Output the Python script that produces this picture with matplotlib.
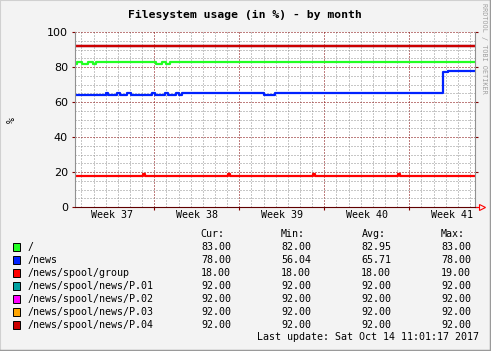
import matplotlib
matplotlib.use('Agg')
import matplotlib.pyplot as plt
from matplotlib.patches import Rectangle
from matplotlib.lines import Line2D

W, H = 491, 351
MONO = 'DejaVu Sans Mono'

# x axis: days since Mon 11 Sep 2017 00:00 (start of week 37)
t_start, t_end = 0.47, 33.41
week_starts = [7, 14, 21, 28]
week_centers = [3.5, 10.5, 17.5, 24.5, 31.5]
week_names = ['Week 37', 'Week 38', 'Week 39', 'Week 40', 'Week 41']

# "/" (step changes)
root_t = [0.47, 0.66, 1.02, 1.54, 1.98, 2.20, 7.14, 7.61, 7.97, 8.30, 33.41]
root_v = [82, 83, 82, 83, 82, 83, 82, 83, 82, 83, 83]

# "/news"
news_t = [0.47, 3.00, 3.20, 3.90, 4.17, 4.77, 5.07, 6.84, 7.06, 7.88, 8.16,
          8.79, 9.07, 9.26, 16.07, 16.94, 30.81, 31.22, 33.41]
news_v = [64, 65, 64, 65, 64, 65, 64, 65, 64, 65, 64,
          65, 64, 65, 64, 65, 77, 78, 78]

# "/news/spool/group"
group_t = [0.47, 6.10, 6.25, 13.10, 13.25, 20.10, 20.25, 27.10, 27.25, 33.41]
group_v = [18, 19, 18, 19, 18, 19, 18, 19, 18, 18]

# partitions P.01 - P.04
part_t = [0.47, 33.41]
part_v = [92, 92]

names = ['/', '/news', '/news/spool/group', '/news/spool/news/P.01',
         '/news/spool/news/P.02', '/news/spool/news/P.03', '/news/spool/news/P.04']
colors = ['#22ff22', '#0022ff', '#ff0000', '#00a0a0', '#ff00ff', '#ffa500', '#cc0000']
cur = [83.00, 78.00, 18.00, 92.00, 92.00, 92.00, 92.00]
mins = [82.00, 56.04, 18.00, 92.00, 92.00, 92.00, 92.00]
avgs = [82.95, 65.71, 18.00, 92.00, 92.00, 92.00, 92.00]
maxs = [83.00, 78.00, 19.00, 92.00, 92.00, 92.00, 92.00]

series = [(root_t, root_v), (news_t, news_v), (group_t, group_v),
          (part_t, part_v), (part_t, part_v), (part_t, part_v), (part_t, part_v)]


def fx(x):
    return x / W


def fy(y):
    return 1 - y / H


fig = plt.figure(figsize=(W / 100, H / 100), dpi=100)
fig.patch.set_facecolor('#f3f3f3')

ax = fig.add_axes([fx(75), fy(207), 400 / W, 175 / H])
ax.set_facecolor('white')

for (t, v), c in zip(series, colors):
    ax.plot(t, v, drawstyle='steps-post', color=c, lw=1.6, solid_capstyle='butt')

ax.set_xlim(t_start, t_end)
ax.set_ylim(0, 100)
ax.set_xticks(week_starts)
ax.set_xticks(range(1, 34), minor=True)
ax.set_yticks(range(0, 101, 20))
ax.set_yticks(range(5, 100, 5), minor=True)
ax.set_xticklabels([])
ax.set_axisbelow(True)
ax.grid(which='minor', color='#909090', linestyle=(0, (1, 2)), lw=0.72)
ax.grid(which='major', color='#800000', linestyle=(0, (1, 2)), lw=0.72)
ax.tick_params(which='minor', length=0)
ax.tick_params(which='major', direction='out', length=2, width=0.8, color='#800000',
               left=True, right=True, bottom=True, pad=3, labelsize=8)

ax.spines['top'].set_visible(False)
ax.spines['left'].set_color('#909090')
ax.spines['right'].set_color('#909090')
ax.spines['bottom'].set_color('#600000')
for s in ax.spines.values():
    s.set_linewidth(0.8)

# axis arrow
ax.plot([t_end, t_end + 0.35], [0, 0], color='red', lw=0.8, clip_on=False)
ax.plot(t_end + 0.55, 0, marker='>', mfc='none', mec='red', ms=5, mew=0.8, clip_on=False)

for xc, name in zip(week_centers, week_names):
    ax.text(xc, -0.047, name, transform=ax.get_xaxis_transform(), ha='center', va='center',
            fontsize=7.2, family=MONO)

fig.text(fx(245), fy(15), 'Filesystem usage (in %) - by month', ha='center', va='center',
         fontsize=8.2, family=MONO, weight='bold')
fig.text(fx(12), fy(120), '%', rotation=90, ha='center', va='center', fontsize=7.2, family=MONO)
fig.text(fx(484), fy(48), 'RRDTOOL / TOBI OETIKER', rotation=270, ha='center', va='center',
         fontsize=4.9, family=MONO, color='#a0a0a0')

# legend
hdr_y = 234
fig.text(fx(200), fy(hdr_y), 'Cur:', ha='left', va='center', fontsize=7.2, family=MONO)
fig.text(fx(281), fy(hdr_y), 'Min:', ha='left', va='center', fontsize=7.2, family=MONO)
fig.text(fx(361.5), fy(hdr_y), 'Avg:', ha='left', va='center', fontsize=7.2, family=MONO)
fig.text(fx(440.5), fy(hdr_y), 'Max:', ha='left', va='center', fontsize=7.2, family=MONO)

for i, name in enumerate(names):
    y = 246.7 + 13 * i
    fig.patches.append(Rectangle((fx(12.5), fy(y + 4)), 8 / W, 8 / H, transform=fig.transFigure,
                                 facecolor=colors[i], edgecolor='black', lw=0.7))
    fig.text(fx(27), fy(y), name, ha='left', va='center', fontsize=7.2, family=MONO)
    for xr, val in zip([231, 311, 391, 471], [cur[i], mins[i], avgs[i], maxs[i]]):
        fig.text(fx(xr), fy(y), f'{val:.2f}', ha='right', va='center', fontsize=7.2, family=MONO)

fig.text(fx(479), fy(337.3), 'Last update: Sat Oct 14 11:01:17 2017', ha='right', va='center',
         fontsize=7.2, family=MONO)

# image frame
fig.lines.append(Line2D([0, 0, 1], [0, 1, 1], transform=fig.transFigure, color='#d0d0d0', lw=1.5))
fig.lines.append(Line2D([0, 1, 1], [0, 0, 1], transform=fig.transFigure, color='#9a9a9a', lw=2.5))

fig.savefig('out.png', dpi=100, facecolor=fig.get_facecolor())
